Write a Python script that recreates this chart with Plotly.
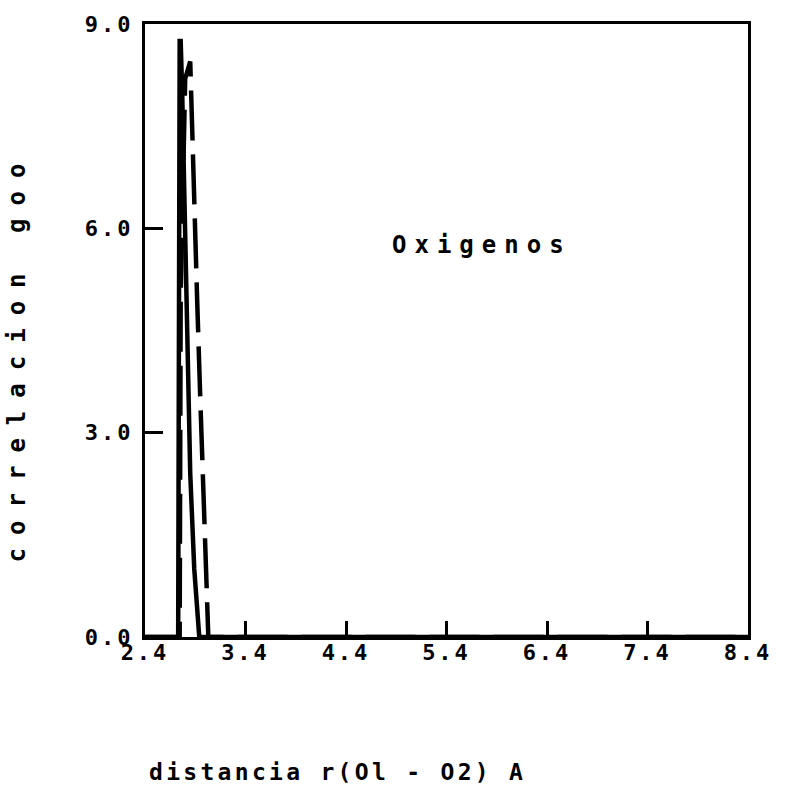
import plotly.graph_objects as go

# Radial distribution g_OO(r): distance r in Angstrom and correlation value
r_solid = [2.40, 2.73, 2.745, 2.755, 2.77, 2.79, 2.82, 2.85, 2.89, 2.91, 2.94, 8.40]
g_solid = [0.0, 0.0, 8.75, 8.75, 8.0, 6.4, 4.6, 2.4, 1.0, 0.5, 0.0, 0.0]

r_dash = [2.40, 2.745, 2.755, 2.80, 2.85, 2.88, 2.92, 2.95, 3.00, 3.03, 8.40]
g_dash = [0.0, 0.0, 5.0, 8.2, 8.45, 6.7, 4.9, 3.5, 1.3, 0.0, 0.0]

x_ticks = [2.4, 3.4, 4.4, 5.4, 6.4, 7.4, 8.4]
y_ticks = [0.0, 3.0, 6.0, 9.0]

x_title = "distancia r(Ol - O2) A"
y_title = "correlacion goo"
label = "Oxigenos"

FONT = "DejaVu Sans Mono"


def spaced(text, px):
    return f'<span style="letter-spacing:{px}px">{text}</span>'


fig = go.Figure()
fig.add_trace(go.Scatter(x=r_solid, y=g_solid, mode="lines",
                         line=dict(color="black", width=4.5),
                         showlegend=False, hoverinfo="skip"))
fig.add_trace(go.Scatter(x=r_dash, y=g_dash, mode="lines",
                         line=dict(color="black", width=4.5, dash="50px,14px"),
                         showlegend=False, hoverinfo="skip"))

axis_common = dict(showline=True, mirror=True, linecolor="black", linewidth=3,
                   showgrid=False, zeroline=False, ticks="inside",
                   tickcolor="black", tickwidth=3,
                   tickfont=dict(family=FONT, size=22, color="black"))

fig.update_xaxes(range=[2.4, 8.4], tickvals=x_ticks,
                 ticktext=[spaced(f"<b>{v:.1f}</b>", 3) for v in x_ticks],
                 ticklen=16, ticklabelstandoff=-6, **axis_common)
fig.update_yaxes(range=[0, 9], tickvals=y_ticks,
                 ticktext=[spaced(f"<b>{v:.1f}</b>", 3) for v in y_ticks],
                 ticklen=18, ticklabelstandoff=4, **axis_common)

fig.add_annotation(x=4.84, y=5.76, xref="x", yref="y", xanchor="left",
                   yanchor="middle", showarrow=False,
                   text=spaced(f"<b>{label}</b>", 8),
                   font=dict(family=FONT, size=24, color="black"))
fig.add_annotation(x=0.004, y=-0.221, xref="paper", yref="paper",
                   xanchor="left", yanchor="middle", showarrow=False,
                   text=spaced(f"<b>{x_title}</b>", 3.3),
                   font=dict(family=FONT, size=23, color="black"))
fig.add_annotation(x=-0.212, y=0.458, xref="paper", yref="paper",
                   xanchor="center", yanchor="middle", showarrow=False,
                   textangle=-90,
                   text=spaced(f"<b>{y_title}</b>", 13),
                   font=dict(family=FONT, size=24, color="black"))

fig.update_layout(width=786, height=790,
                  margin=dict(l=145, r=38, t=21, b=153),
                  paper_bgcolor="white", plot_bgcolor="white")

fig.write_html("out.html")
